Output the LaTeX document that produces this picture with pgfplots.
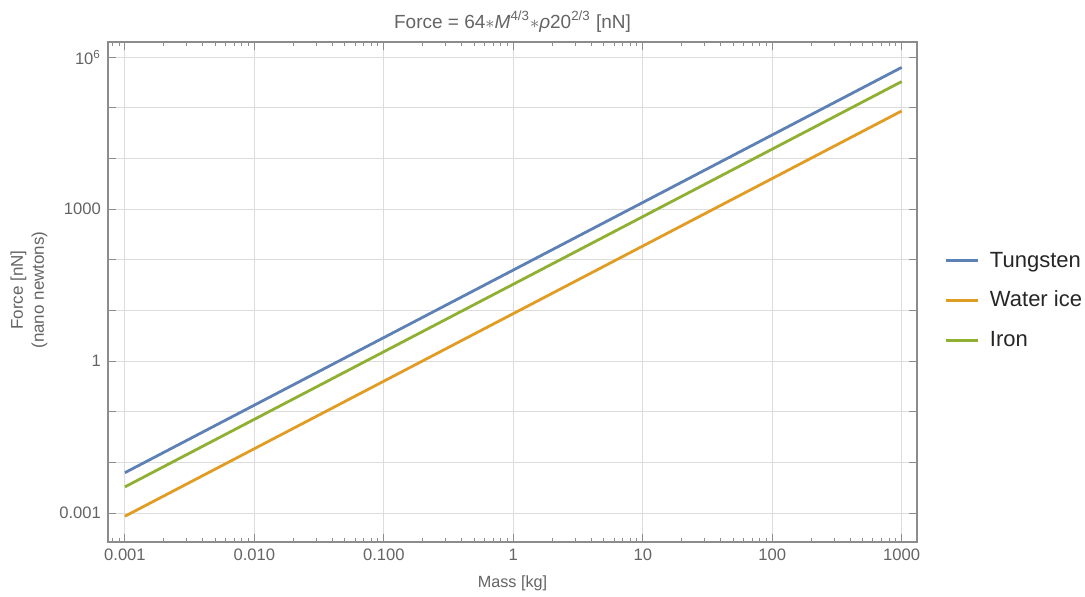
\documentclass[border=0pt]{standalone}
\usepackage{fontspec}
\setmainfont{Liberation Sans}
\usepackage{pgfplots}
\pgfplotsset{compat=1.18}
\usetikzlibrary{calc}
\definecolor{mblue}{RGB}{94,129,181}
\definecolor{morange}{RGB}{225,156,36}
\definecolor{mgreen}{RGB}{143,176,50}
\definecolor{txtgray}{RGB}{100,100,100}
\definecolor{axgray}{RGB}{140,140,140}
\definecolor{gridgray}{RGB}{220,220,220}

\begin{document}
\begin{tikzpicture}
\begin{loglogaxis}[
  name=ax,
  scale only axis,
  width=404.5pt, height=250pt,
  xmin=7.4e-4, xmax=1313,
  ymin=2.7e-4, ymax=2e6,
  xtick={0.001,0.01,0.1,1,10,100,1000},
  xticklabels={0.001,0.010,0.100,1,10,100,1000},
  minor xtick={0.0008,0.0009,0.002,0.003,0.004,0.005,0.006,0.007,0.008,0.009,
    0.02,0.03,0.04,0.05,0.06,0.07,0.08,0.09,0.2,0.3,0.4,0.5,0.6,0.7,0.8,0.9,
    2,3,4,5,6,7,8,9,20,30,40,50,60,70,80,90,200,300,400,500,600,700,800,900},
  ytick={1e-3,1e-2,1e-1,1,10,100,1000,1e4,1e5,1e6},
  yticklabels={0.001,{},{},1,{},{},1000,{},{},10\textsuperscript{6}},
  minor ytick={1e9},
  tick align=inside,
  major tick length=4pt, minor tick length=2pt,
  axis line style={axgray, line width=0.6pt},
  every tick/.style={axgray, line width=0.5pt},
  grid=major,
  major grid style={gridgray, line width=0.5pt},
  ticklabel style={font=\fontsize{8.3}{10}\selectfont, text=txtgray},
  title={Force = 64$\ast$\textit{M}\textsuperscript{4/3}$\ast$\textit{ρ}20\textsuperscript{2/3} [nN]},
  title style={at={(axis description cs:0.5,1)}, anchor=base, yshift=1pt,
    font=\fontsize{9.5}{11}\selectfont, text=txtgray},
  xlabel={Mass [kg]},
  xlabel style={at={(axis description cs:0.5,-0.082)}, anchor=center,
    font=\fontsize{8.1}{9}\selectfont, text=txtgray},
  ylabel={Force [nN]\\(nano newtons)},
  ylabel style={at={(axis description cs:-0.0977,0.504)}, anchor=center, align=center,
    font=\fontsize{8.5}{10.5}\selectfont, text=txtgray},
  legend style={draw=none, fill=none, at={(axis description cs:1.026,0.483)}, anchor=west,
    font=\fontsize{11}{12}\selectfont, text=black!85, row sep=6.5pt},
  legend cell align=left,
  legend image code/.code={\draw[#1, line width=1.5pt] (0pt,0pt) -- (16pt,0pt); \path[draw=none] (0pt,0pt) -- (20pt,0pt);},
]
\addplot[mblue, line width=1.4pt] coordinates {
  (0.001,0.00631) (0.01,0.136) (0.1,2.93) (1,63.1) (10,1359) (100,29300) (1000,631000)};
\addlegendentry{Tungsten}
\addplot[morange, line width=1.4pt] coordinates {
  (0.001,0.000871) (0.01,0.01876) (0.1,0.404) (1,8.71) (10,187.6) (100,4043) (1000,87100)};
\addlegendentry{Water ice}
\addplot[mgreen, line width=1.4pt] coordinates {
  (0.001,0.00331) (0.01,0.0714) (0.1,1.54) (1,33.1) (10,714) (100,15380) (1000,331000)};
\addlegendentry{Iron}
\end{loglogaxis}
\pgfresetboundingbox
\path ($(ax.south west)+(-54pt,-27pt)$) rectangle ($(ax.north east)+(84pt,21pt)$);
\end{tikzpicture}
\end{document}
